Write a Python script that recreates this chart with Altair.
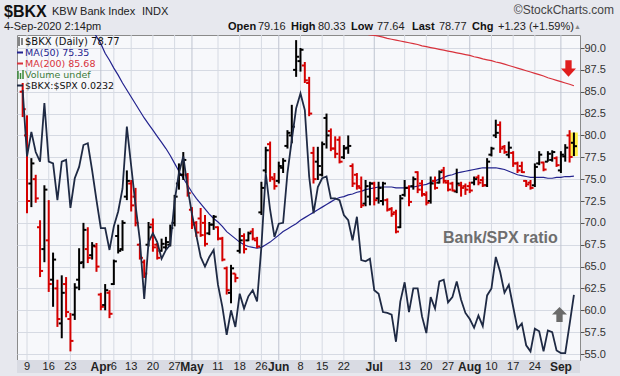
import altair as alt
import pandas as pd
import numpy as np

# ---------------- data ----------------
holidays = ["2020-04-10", "2020-05-25", "2020-07-03"]
days = [d for d in pd.bdate_range("2020-03-06", "2020-09-04") if d.strftime("%Y-%m-%d") not in holidays]

prior_close = 87.9

opens = [85.0, 80.0, 74.5, 75.0, 69.5, 67.0, 68.0, 63.5, 62.5, 58.5,
         63.0, 59.0, 59.5, 63.5, 65.5, 67.0, 66.3, 67.3, 61.8, 60.6,
         62.0, 63.0, 68.5, 67.0, 73.0, 74.5, 73.0, 67.5, 65.5, 67.5,
         69.8, 67.5, 66.8, 67.2, 67.5, 70.0, 74.5, 75.5, 75.5, 71.5,
         70.0, 70.5, 70.0, 68.8, 69.8, 69.5, 68.2, 64.8, 62.0, 64.2,
         66.8, 68.5, 68.0, 69.0, 68.0, 71.2, 76.0, 79.0, 75.0, 74.8,
         76.3, 78.8, 80.0, 87.5, 88.5, 88.0, 86.0, 78.0, 77.0, 75.5,
         82.0, 80.5, 78.5, 79.5, 77.5, 78.6, 76.5, 75.5, 74.0, 72.2,
         73.0, 74.5, 72.8, 72.5, 72.6, 71.6, 71.2, 69.5, 73.2, 74.0,
         74.2, 75.8, 74.5, 73.2, 72.5, 74.8, 74.6, 76.0, 74.6, 74.5,
         73.6, 74.3, 74.2, 74.2, 74.6, 75.2, 74.9, 74.3, 77.8, 80.0,
         81.2, 78.7, 77.8, 78.0, 76.8, 76.5, 74.8, 74.6, 74.3, 76.8,
         76.9, 77.0, 77.2, 77.4, 76.0, 77.6, 80.0, 79.16]
highs = [86.0, 82.3, 77.4, 75.5, 70.3, 74.3, 72.6, 66.6, 63.5, 64.0,
         63.8, 59.7, 63.1, 67.1, 70.0, 69.5, 67.8, 67.7, 62.0, 63.0,
         62.3, 65.8, 69.8, 70.3, 76.0, 74.9, 74.0, 67.7, 65.8, 70.1,
         70.5, 67.7, 68.2, 68.4, 69.8, 73.2, 76.8, 78.1, 75.7, 71.8,
         70.2, 71.7, 70.9, 70.1, 70.9, 69.6, 68.4, 65.0, 65.2, 64.2,
         69.4, 68.8, 69.0, 69.4, 68.4, 74.7, 78.7, 79.3, 75.7, 77.0,
         77.4, 80.6, 83.5, 90.9, 90.0, 88.4, 86.7, 78.7, 78.7, 79.3,
         82.5, 80.8, 79.9, 79.9, 78.9, 80.0, 76.8, 75.7, 75.3, 74.9,
         74.7, 74.7, 74.7, 74.7, 72.8, 71.8, 71.5, 73.2, 74.9, 74.3,
         75.3, 75.9, 74.9, 73.6, 75.3, 75.3, 76.0, 76.4, 74.9, 74.7,
         76.2, 74.7, 74.5, 74.7, 75.3, 75.5, 75.3, 77.4, 78.7, 81.8,
         81.6, 78.9, 79.3, 78.2, 77.0, 77.0, 74.9, 74.9, 76.8, 78.2,
         77.0, 78.2, 78.3, 77.6, 78.2, 79.0, 80.6, 80.33]
lows = [82.1, 71.1, 71.8, 72.3, 63.8, 65.5, 62.1, 60.4, 58.1, 56.8,
        59.2, 55.3, 58.9, 62.3, 64.8, 65.4, 65.8, 64.4, 60.0, 60.0,
        59.1, 62.9, 66.5, 66.8, 72.6, 71.3, 69.6, 65.8, 63.7, 67.3,
        66.7, 65.8, 66.7, 66.9, 67.3, 69.6, 73.8, 74.9, 73.0, 69.3,
        68.4, 68.4, 67.3, 68.6, 69.2, 68.0, 65.6, 61.8, 60.8, 63.2,
        66.5, 66.5, 67.9, 68.0, 67.1, 70.9, 75.7, 74.7, 73.8, 74.5,
        75.7, 78.5, 79.1, 86.7, 87.3, 86.0, 82.2, 74.5, 74.9, 75.3,
        78.5, 78.2, 77.4, 76.8, 77.3, 77.9, 74.1, 73.8, 71.7, 71.9,
        72.0, 72.0, 72.2, 72.0, 71.3, 70.7, 68.8, 69.4, 73.0, 71.9,
        73.8, 73.4, 73.0, 72.0, 72.2, 73.8, 74.5, 74.5, 73.6, 73.6,
        73.4, 73.0, 73.2, 73.4, 74.3, 74.3, 74.1, 74.1, 77.6, 79.7,
        78.0, 77.9, 77.4, 76.4, 75.7, 75.7, 74.1, 73.8, 74.1, 76.6,
        75.9, 77.0, 77.0, 76.4, 75.7, 77.0, 76.9, 77.64]
closes = [83.0, 72.5, 76.8, 72.8, 64.5, 73.8, 63.0, 65.8, 59.0, 62.0,
          59.8, 56.5, 62.6, 65.4, 69.2, 66.0, 67.4, 65.0, 60.4, 62.3,
          59.6, 65.6, 66.8, 70.0, 74.8, 72.0, 70.0, 66.0, 64.2, 69.5,
          67.2, 66.0, 67.6, 67.8, 69.4, 73.0, 75.5, 77.2, 73.4, 69.8,
          68.9, 68.6, 67.6, 69.8, 70.7, 68.2, 65.8, 62.3, 64.8, 63.7,
          68.0, 67.0, 68.8, 68.2, 67.3, 74.0, 78.3, 75.2, 74.2, 76.5,
          77.1, 80.3, 81.0, 89.0, 89.8, 86.3, 82.5, 75.0, 76.5, 79.0,
          80.0, 78.5, 77.9, 77.0, 78.5, 78.8, 74.5, 74.2, 72.0, 74.2,
          74.5, 72.6, 74.0, 74.5, 71.5, 71.0, 69.0, 72.8, 74.0, 72.4,
          75.0, 73.8, 73.3, 72.3, 74.5, 74.0, 75.8, 74.8, 73.8, 73.7,
          74.5, 74.0, 73.8, 73.7, 75.0, 74.6, 74.3, 77.0, 78.5, 80.3,
          78.5, 78.1, 78.6, 76.8, 76.0, 75.8, 74.4, 74.0, 76.4, 77.8,
          76.1, 77.9, 78.1, 76.6, 77.8, 78.6, 77.54, 78.77]

ma50_start = 16
ma50 = [92.1,
        91.3, 90.5, 89.4, 88.6, 87.7, 86.9, 86.0, 85.2, 84.4, 83.6,
        82.8, 82.0, 81.3, 80.6, 79.9, 79.2, 78.5, 77.7, 76.8, 75.9,
        75.1, 74.3, 73.5, 72.8, 72.2, 71.6, 71.0, 70.5, 70.1, 69.6,
        69.0, 68.6, 68.2, 67.8, 67.5, 67.3, 67.2, 67.1, 67.2, 67.5,
        67.8, 68.2, 68.6, 69.0, 69.3, 69.6, 69.9, 70.3, 70.6, 70.9,
        71.2, 71.5, 71.8, 72.1, 72.4, 72.7, 72.9, 73.0, 73.2, 73.3,
        73.5, 73.6, 73.8, 73.9, 74.0, 74.1, 74.1, 74.1, 74.1, 74.0,
        74.0, 74.0, 74.1, 74.1, 74.2, 74.3, 74.4, 74.6, 74.8, 75.0,
        75.2, 75.4, 75.5, 75.7, 75.8, 75.9, 76.0, 76.1, 76.2, 76.3,
        76.3, 76.3, 76.3, 76.2, 76.1, 75.9, 75.7, 75.5, 75.4, 75.3,
        75.2, 75.2, 75.2, 75.2, 75.1, 75.1, 75.2, 75.2, 75.3, 75.3, 75.35]

ma200_start = 76
ma200 = [91.8, 91.7, 91.65, 91.6, 91.5, 91.45, 91.35, 91.25, 91.1, 91.0,
         90.9, 90.8, 90.7, 90.6, 90.5, 90.4, 90.25, 90.15, 90.05, 89.95,
         89.85, 89.75, 89.65, 89.55, 89.45, 89.35, 89.25, 89.15, 89.0, 88.9,
         88.75, 88.65, 88.55, 88.4, 88.3, 88.15, 88.0, 87.85, 87.7, 87.55,
         87.4, 87.25, 87.1, 86.95, 86.8, 86.6, 86.45, 86.3, 86.15, 86.0,
         85.85, 85.68]

ratio = [0.02789, 0.02637, 0.02693, 0.02647, 0.02625, 0.02759, 0.02625, 0.02621, 0.02537, 0.02625,
         0.02629, 0.02519, 0.02587, 0.02613, 0.02663, 0.02667, 0.02605, 0.02537, 0.02473, 0.02473,
         0.02423, 0.02477, 0.02511, 0.02563, 0.02705, 0.02615, 0.02525, 0.02445, 0.02311, 0.02441,
         0.02461, 0.02441, 0.02403, 0.02423, 0.02435, 0.02535, 0.02599, 0.02637, 0.02565, 0.02505,
         0.02457, 0.02407, 0.02385, 0.02407, 0.02423, 0.02343, 0.02293, 0.02229, 0.02285, 0.02247,
         0.02323, 0.02289, 0.02317, 0.02331, 0.02305, 0.02431, 0.02599, 0.02515, 0.02453, 0.02483,
         0.02485, 0.02599, 0.02675, 0.02747, 0.02781, 0.02743, 0.02591, 0.02507, 0.02567, 0.02587,
         0.02591, 0.02541, 0.02541, 0.02537, 0.02503, 0.02491, 0.02445, 0.02499, 0.02400, 0.02397,
         0.02403, 0.02331, 0.02323, 0.02281, 0.02279, 0.02275, 0.02213, 0.02305, 0.02349, 0.02281,
         0.02335, 0.02335, 0.02271, 0.02233, 0.02315, 0.02289, 0.02351, 0.02355, 0.02303, 0.02315,
         0.02351, 0.02309, 0.02279, 0.02265, 0.02245, 0.02273, 0.02249, 0.02319, 0.02335, 0.02407,
         0.02373, 0.02325, 0.02343, 0.02293, 0.02243, 0.02255, 0.02205, 0.02191, 0.02243, 0.02237,
         0.02191, 0.02239, 0.02235, 0.02193, 0.02187, 0.02187, 0.02253, 0.02320]

tick_dates = ["2020-03-09", "2020-03-16", "2020-03-23", "2020-04-01", "2020-04-06", "2020-04-13",
              "2020-04-20", "2020-04-27", "2020-05-01", "2020-05-11", "2020-05-18", "2020-05-26",
              "2020-06-01", "2020-06-08", "2020-06-15", "2020-06-22", "2020-07-01", "2020-07-13",
              "2020-07-20", "2020-07-27", "2020-08-03", "2020-08-10", "2020-08-17", "2020-08-24",
              "2020-09-01"]
tick_labels = ["9", "16", "23", "Apr", "6", "13", "20", "27", "May", "11", "18", "26", "Jun", "8",
               "15", "22", "Jul", "13", "20", "27", "Aug", "10", "17", "24", "Sep"]
y_ticks = [55.0, 57.5, 60.0, 62.5, 65.0, 67.5, 70.0, 72.5, 75.0, 77.5, 80.0, 82.5, 85.0, 87.5, 90.0]

# ---------------- frames ----------------
n = len(days)
df = pd.DataFrame({"idx": np.arange(n), "date": [d.strftime("%Y-%m-%d") for d in days],
                   "open": opens, "high": highs, "low": lows, "close": closes, "ratio": ratio})
df["prev"] = df["close"].shift(1).fillna(prior_close)
df["dir"] = np.where(df["close"] > df["prev"], "up", "down")
df["xo"] = df["idx"] - 0.7
df["xc"] = df["idx"] + 0.7

ma50_df = pd.DataFrame({"idx": np.arange(ma50_start, ma50_start + len(ma50)), "v": ma50})
ma200_df = pd.DataFrame({"idx": np.arange(ma200_start, ma200_start + len(ma200)), "v": ma200})

date_to_idx = {d: i for i, d in enumerate(df["date"])}
months = {"Apr", "May", "Jun", "Jul", "Aug", "Sep"}
ticks_df = pd.DataFrame({"idx": [date_to_idx[d] for d in tick_dates], "label": tick_labels})
ticks_df["month"] = ticks_df["label"].isin(months)

last_df = df.tail(1).copy()
last_df["x1"] = last_df["idx"] - 0.9
last_df["x2"] = last_df["idx"] + 0.9

W, H = 563, 325
FONT = "Liberation Sans"
xsc = alt.Scale(domain=[-1.31, 128.4], nice=False, zero=False)
ysc = alt.Scale(domain=[54.315, 91.487], nice=False, zero=False)
rsc = alt.Scale(domain=[0.021713, 0.029147], nice=False, zero=False)
col = alt.Color("dir:N", scale=alt.Scale(domain=["up", "down"], range=["#000000", "#d40000"]), legend=None)

yaxis = alt.Axis(orient="right", values=y_ticks, format=".1f", tickSize=4, tickColor="#555",
                 labelPadding=0, domain=False, grid=True, gridColor="#d6dae3", labelFont=FONT,
                 labelFontSize=11, labelColor="#333", title=None)

base = alt.Chart(df)
one = pd.DataFrame({"a": [0]})

band = alt.Chart(one).mark_rect(color="#d9dbe3").encode(
    x=alt.value(0), x2=alt.value(W), y=alt.value(H), y2=alt.value(H + 13))

vgrid = alt.Chart(ticks_df).mark_rule(strokeWidth=1).encode(
    x=alt.X("idx:Q", scale=xsc, axis=None), y=alt.value(0), y2=alt.value(H),
    color=alt.condition("datum.month", alt.value("#bfc4d0"), alt.value("#d6dae3")))

highlight = alt.Chart(last_df).mark_rect(color="#fff04a").encode(
    x=alt.X("x1:Q", scale=xsc, axis=None), x2="x2:Q",
    y=alt.Y("low:Q", scale=ysc, axis=yaxis), y2="high:Q")

hl = base.mark_rule(strokeWidth=2).encode(
    x=alt.X("idx:Q", scale=xsc, axis=None), y=alt.Y("low:Q", scale=ysc, axis=yaxis), y2="high:Q", color=col)
op = base.mark_rule(strokeWidth=2).encode(
    x=alt.X("xo:Q", scale=xsc, axis=None), x2="idx:Q", y=alt.Y("open:Q", scale=ysc, axis=yaxis), color=col)
cl = base.mark_rule(strokeWidth=2).encode(
    x=alt.X("idx:Q", scale=xsc, axis=None), x2="xc:Q", y=alt.Y("close:Q", scale=ysc, axis=yaxis), color=col)

ma50_line = alt.Chart(ma50_df).mark_line(color="#23238e", strokeWidth=1.2, clip=True).encode(
    x=alt.X("idx:Q", scale=xsc, axis=None), y=alt.Y("v:Q", scale=ysc, axis=yaxis))
ma200_line = alt.Chart(ma200_df).mark_line(color="#d8323c", strokeWidth=1.2, clip=True).encode(
    x=alt.X("idx:Q", scale=xsc, axis=None), y=alt.Y("v:Q", scale=ysc, axis=yaxis))

xlab_day = alt.Chart(ticks_df[~ticks_df["month"]]).mark_text(
    font=FONT, fontSize=11, color="#222", baseline="middle").encode(
    x=alt.X("idx:Q", scale=xsc, axis=None), y=alt.value(H + 7), text="label:N")
xlab_mon = alt.Chart(ticks_df[ticks_df["month"]]).mark_text(
    font=FONT, fontSize=12, fontWeight="bold", color="#222", baseline="middle").encode(
    x=alt.X("idx:Q", scale=xsc, axis=None), y=alt.value(H + 7), text="label:N")

price = alt.layer(band, vgrid, highlight, ma200_line, ma50_line, hl, op, cl, xlab_day, xlab_mon)

ratio_line = base.mark_line(color="#1f2a44", strokeWidth=1.8).encode(
    x=alt.X("idx:Q", scale=xsc, axis=None), y=alt.Y("ratio:Q", scale=rsc, axis=None))


def txt(s, x, y, size=11, weight="normal", color="#111", align="left", font=FONT):
    return alt.Chart(one).mark_text(text=s, font=font, fontSize=size, fontWeight=weight, color=color,
                                    align=align, baseline="middle").encode(x=alt.value(x), y=alt.value(y))


def hseg(x1, x2, y, color, w=2):
    return alt.Chart(one).mark_rule(color=color, strokeWidth=w).encode(
        x=alt.value(x1), x2=alt.value(x2), y=alt.value(y))


def vseg(x, y1, y2, color, w=1):
    return alt.Chart(one).mark_rule(color=color, strokeWidth=w).encode(
        x=alt.value(x), y=alt.value(y1), y2=alt.value(y2))


OX, OY = 17, 35  # plot origin in page pixels
LF = "DejaVu Sans"
LS = 9.5
annos = [
    txt("$BKX", 4 - OX, 12 - OY, 16, "bold", "#111"),
    txt("KBW Bank Index", 52 - OX, 12 - OY, 11, "normal", "#222"),
    txt("INDX", 142 - OX, 12 - OY, 11, "normal", "#222"),
    txt("4-Sep-2020 2:14pm", 4 - OX, 27 - OY, 11, "normal", "#222"),
    txt("©StockCharts.com", 614 - OX, 10 - OY, 12, "normal", "#444", align="right"),
    txt("Open", 228 - OX, 27 - OY, 11, "bold", "#111"),
    txt("79.16", 258 - OX, 27 - OY, 11, "normal", "#222"),
    txt("High", 291 - OX, 27 - OY, 11, "bold", "#111"),
    txt("80.33", 318 - OX, 27 - OY, 11, "normal", "#222"),
    txt("Low", 351 - OX, 27 - OY, 11, "bold", "#111"),
    txt("77.64", 377 - OX, 27 - OY, 11, "normal", "#222"),
    txt("Last", 412 - OX, 27 - OY, 11, "bold", "#111"),
    txt("78.77", 439 - OX, 27 - OY, 11, "normal", "#222"),
    txt("Chg", 472 - OX, 27 - OY, 11, "bold", "#111"),
    txt("+1.23 (+1.59%)", 498 - OX, 27 - OY, 11, "normal", "#222"),
    txt("▲", 574 - OX, 27 - OY, 7, "normal", "#888"),
    # legend
    vseg(19 - OX, 37 - OY, 46 - OY, "#111", 1),
    vseg(22 - OX, 38 - OY, 45 - OY, "#111", 1),
    txt("$BKX (Daily) 78.77", 25 - OX, 41.5 - OY, 10, "normal", "#111", font=LF),
    hseg(17 - OX, 23 - OX, 52.5 - OY, "#23238e"),
    txt("MA(50) 75.35", 25 - OX, 52.5 - OY, LS, "normal", "#23238e", font=LF),
    hseg(17 - OX, 23 - OX, 63.5 - OY, "#d8323c"),
    txt("MA(200) 85.68", 25 - OX, 63.5 - OY, LS, "normal", "#d8323c", font=LF),
    vseg(18 - OX, 71 - OY, 79 - OY, "#3a8a3a", 1.5),
    vseg(20.5 - OX, 73 - OY, 79 - OY, "#3a8a3a", 1.5),
    vseg(23 - OX, 70 - OY, 79 - OY, "#3a8a3a", 1.5),
    txt("Volume undef", 25 - OX, 74.5 - OY, LS, "normal", "#3a7a3a", font=LF),
    hseg(17 - OX, 23 - OX, 85.5 - OY, "#1f2a44"),
    txt("$BKX:$SPX 0.0232", 25 - OX, 85.5 - OY, LS, "normal", "#111", font=LF),
    txt("Bank/SPX ratio", 443 - OX, 238 - OY, 16, "bold", "#6e6e6e"),
]

down_arrow = "M-0.42,-1.1 L0.42,-1.1 L0.42,0 L1,0 L0,1.1 L-1,0 L-0.42,0 Z"
up_arrow = "M-0.42,1 L0.42,1 L0.42,0 L1,0 L0,-1 L-1,0 L-0.42,0 Z"
arrows = [
    alt.Chart(one).mark_point(shape=down_arrow, filled=True, size=225, color="#e01e1e", opacity=1).encode(
        x=alt.value(568.5 - OX), y=alt.value(68.5 - OY)),
    alt.Chart(one).mark_point(shape=up_arrow, filled=True, size=225, color="#6a6a6a", opacity=1).encode(
        x=alt.value(559.5 - OX), y=alt.value(314.5 - OY)),
]

chart = alt.layer(price, ratio_line, *annos, *arrows).resolve_scale(y="independent").properties(
    width=W, height=H, autosize=alt.AutoSizeParams(type="none"),
    padding={"left": OX, "top": OY, "right": 620 - OX - W, "bottom": 376 - OY - H},
    background="#e7e8ee",
).configure_view(fill="#f7f8fb", stroke="#8a8a8a", strokeWidth=1)

chart.save("out.html", embed_options={"renderer": "svg", "actions": False})
